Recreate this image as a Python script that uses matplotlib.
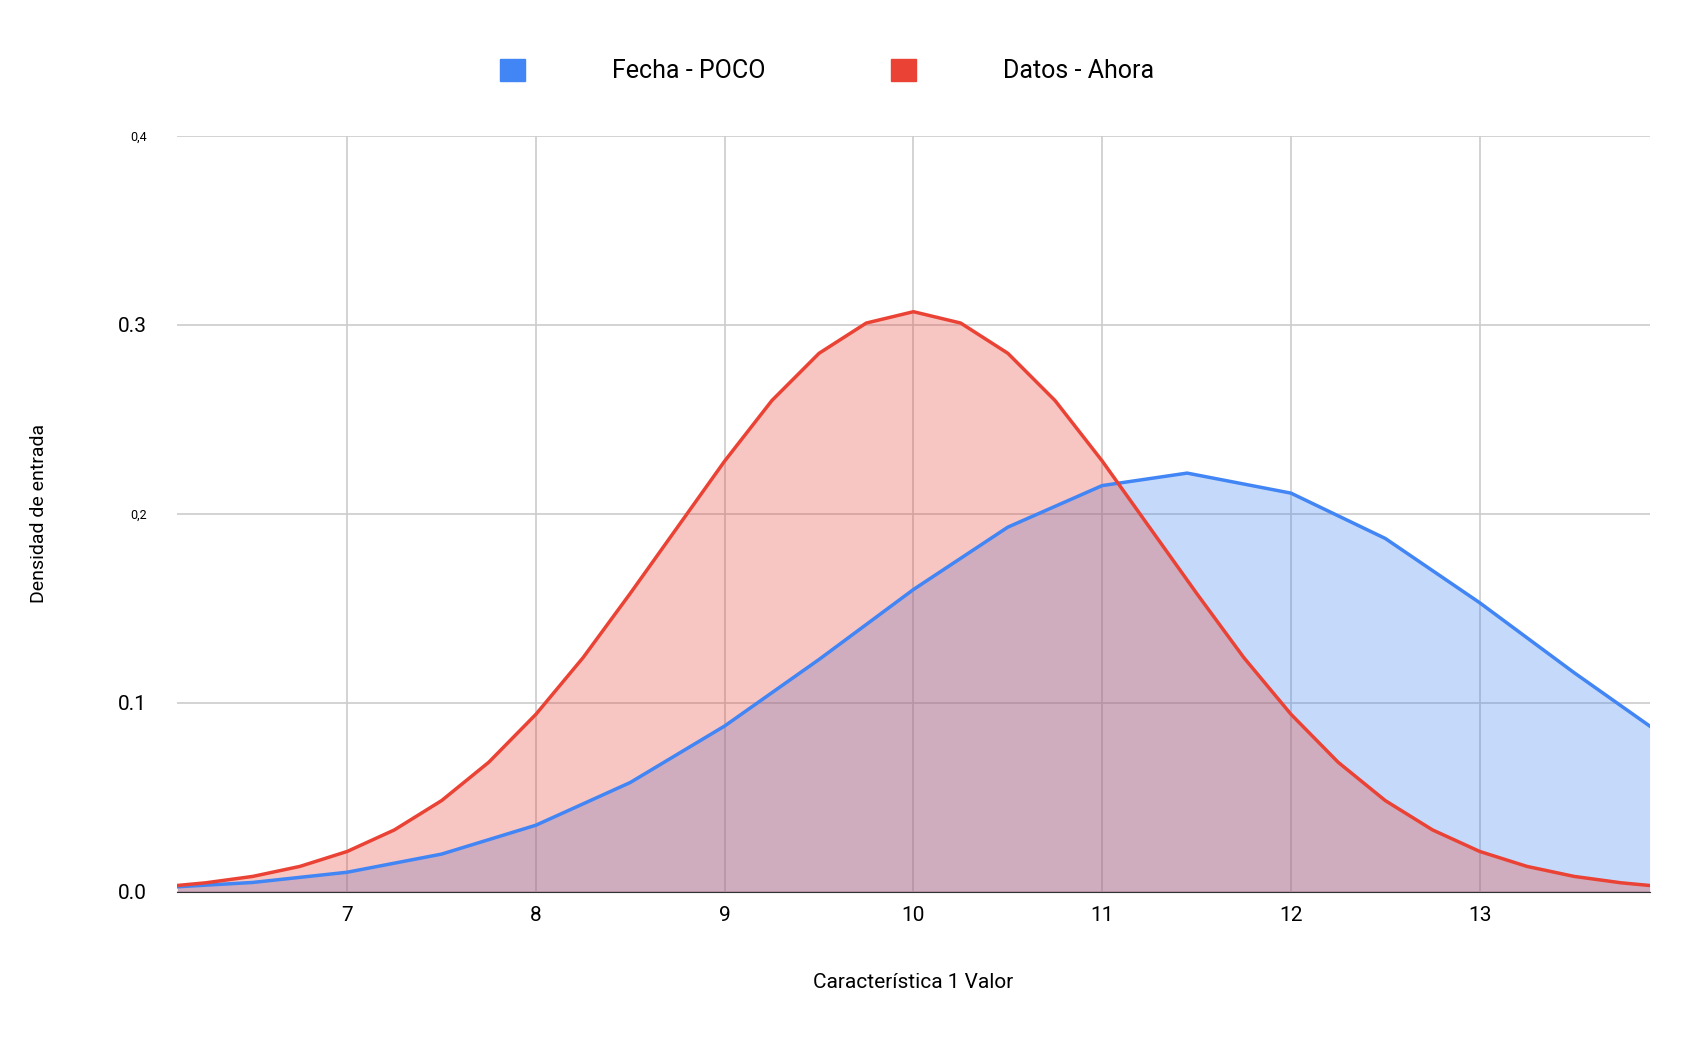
import matplotlib.pyplot as plt
from matplotlib.patches import Patch

plt.rcParams['font.family'] = 'Roboto'

# Datos - Ahora (rojo)
x_ahora = [6.1, 6.25, 6.5, 6.75, 7, 7.25, 7.5, 7.75, 8, 8.25, 8.5, 8.75, 9, 9.25, 9.5, 9.75, 10,
           10.25, 10.5, 10.75, 11, 11.25, 11.5, 11.75, 12, 12.25, 12.5, 12.75, 13, 13.25, 13.5, 13.75, 13.9]
y_ahora = [0.0034, 0.0048, 0.0082, 0.0135, 0.0214, 0.0328, 0.0483, 0.0686, 0.094, 0.124, 0.158, 0.193,
           0.228, 0.260, 0.285, 0.301, 0.307, 0.301, 0.285, 0.260, 0.228, 0.193, 0.158, 0.124, 0.094,
           0.0686, 0.0483, 0.0328, 0.0214, 0.0135, 0.0082, 0.0048, 0.0034]

# Fecha - POCO (azul)
x_poco = [6.1, 6.5, 7, 7.5, 8, 8.5, 9, 9.5, 10, 10.5, 11, 11.45, 12, 12.5, 13, 13.5, 13.9]
y_poco = [0.0027, 0.0050, 0.0104, 0.020, 0.0353, 0.0579, 0.0878, 0.123, 0.160, 0.193, 0.215,
          0.2216, 0.211, 0.187, 0.153, 0.116, 0.0878]

azul = '#4285f4'
rojo = '#ea4335'

fig = plt.figure(figsize=(17.05, 10.58), dpi=100)
ax = fig.add_axes([0.104, 0.157, 0.8635, 0.7145])

ax.fill_between(x_poco, y_poco, color=azul, alpha=0.3, lw=0)
ax.fill_between(x_ahora, y_ahora, color=rojo, alpha=0.3, lw=0)
ax.plot(x_poco, y_poco, color=azul, lw=2.5)
ax.plot(x_ahora, y_ahora, color=rojo, lw=2.5)

ax.set_xlim(6.1, 13.9)
ax.set_ylim(0, 0.4)
ax.set_xticks(range(7, 14))
ax.set_yticks([0, 0.1, 0.2, 0.3, 0.4])
ax.set_yticklabels(['0.0', '0.1', '0,2', '0.3', '0,4'])
for lab in ax.get_yticklabels():
    if ',' in lab.get_text():
        lab.set_fontsize(9)
    else:
        lab.set_fontsize(15)
ax.tick_params(axis='x', labelsize=15, length=0, pad=10)
ax.tick_params(axis='y', length=0, pad=22)
ax.grid(True, color='#cccccc', lw=1.2)
ax.set_axisbelow(True)
for s in ['top', 'right', 'left']:
    ax.spines[s].set_visible(False)
ax.spines['bottom'].set_color('#333333')

ax.set_xlabel('Característica 1 Valor', fontsize=15, labelpad=35)
ax.set_ylabel('Densidad de entrada', fontsize=14, labelpad=50)

handles = [Patch(color=azul), Patch(color=rojo)]
fig.legend(handles, ['Fecha - POCO', 'Datos - Ahora'], loc='center', bbox_to_anchor=(0.485, 0.933),
           ncol=2, frameon=False, fontsize=18, handlelength=1, handleheight=1,
           handletextpad=3.5, columnspacing=5)

fig.savefig('out.png')
